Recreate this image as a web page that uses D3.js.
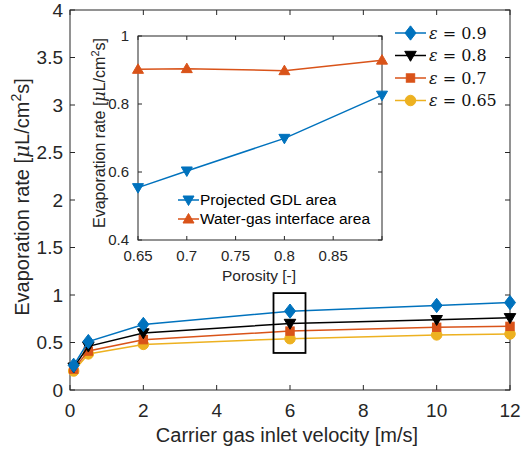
<!DOCTYPE html>
<html><head><meta charset="utf-8">
<script src="https://cdn.jsdelivr.net/npm/d3@7"></script>
<style>body{margin:0;background:#fff}</style>
</head><body>
<script>
const velocity = [0.1, 0.5, 2, 6, 10, 12];
const eps090 = [0.26, 0.51, 0.69, 0.83, 0.89, 0.92];
const eps080 = [0.24, 0.46, 0.60, 0.70, 0.74, 0.76];
const eps070 = [0.22, 0.41, 0.53, 0.62, 0.66, 0.67];
const eps065 = [0.20, 0.38, 0.48, 0.54, 0.58, 0.59];
const seriesNames = ["0.9", "0.8", "0.7", "0.65"];
const porosity = [0.65, 0.7, 0.8, 0.9];
const gdlArea = [0.554, 0.603, 0.699, 0.826];
const interfaceArea = [0.902, 0.904, 0.898, 0.929];
const insetNames = ["Projected GDL area", "Water-gas interface area"];
const mainXTicks = [0, 2, 4, 6, 8, 10, 12];
const mainYTicks = [0, 0.5, 1, 1.5, 2, 2.5, 3, 3.5, 4];
const insetXTicks = [0.65, 0.7, 0.75, 0.8, 0.85, 0.9];
const insetYTicks = [0.4, 0.6, 0.8, 1];

const W = 521, H = 453;
const ax = "#262626";
const svg = d3.select("body").append("svg").attr("width", W).attr("height", H)
  .style("font-family", "Arial, 'Liberation Sans', sans-serif");

const x = d3.scaleLinear().domain([0, 12]).range([70, 510]);
const y = d3.scaleLinear().domain([0, 4]).range([390, 10]);

function drawAxes(g, xs, ys, xt, yt, opts) {
  const [x0, x1] = xs.range(), [y0, y1] = ys.range();
  const tl = opts.tick;
  xt.forEach(v => {
    const px = xs(v);
    g.append("line").attr("x1", px).attr("x2", px).attr("y1", y0).attr("y2", y0 - tl).attr("stroke", ax);
    g.append("line").attr("x1", px).attr("x2", px).attr("y1", y1).attr("y2", y1 + tl).attr("stroke", ax);
    if (!opts.skipX || !opts.skipX.includes(v))
      g.append("text").attr("x", px).attr("y", y0 + opts.xlOff).attr("text-anchor", "middle")
        .attr("font-size", opts.fs).attr("fill", ax).text(v);
  });
  yt.forEach(v => {
    const py = ys(v);
    g.append("line").attr("x1", x0).attr("x2", x0 + tl).attr("y1", py).attr("y2", py).attr("stroke", ax);
    g.append("line").attr("x1", x1).attr("x2", x1 - tl).attr("y1", py).attr("y2", py).attr("stroke", ax);
    g.append("text").attr("x", x0 - opts.ylOff).attr("y", py).attr("dy", "0.35em").attr("text-anchor", "end")
      .attr("font-size", opts.fs).attr("fill", ax).text(v);
  });
  g.append("rect").attr("x", x0).attr("y", y1).attr("width", x1 - x0).attr("height", y0 - y1)
    .attr("fill", "none").attr("stroke", ax).attr("stroke-width", 1);
}

function marker(g, type, cx, cy, size, color) {
  const s = size;
  let el;
  if (type === "diamond") el = g.append("path").attr("d", `M${cx},${cy - s * 0.65}L${cx + s * 0.5},${cy}L${cx},${cy + s * 0.65}L${cx - s * 0.5},${cy}Z`);
  else if (type === "tdown") el = g.append("path").attr("d", `M${cx - s * 0.55},${cy - s * 0.4}L${cx + s * 0.55},${cy - s * 0.4}L${cx},${cy + s * 0.55}Z`);
  else if (type === "tup") el = g.append("path").attr("d", `M${cx - s * 0.55},${cy + s * 0.4}L${cx + s * 0.55},${cy + s * 0.4}L${cx},${cy - s * 0.55}Z`);
  else if (type === "square") el = g.append("rect").attr("x", cx - s * 0.42).attr("y", cy - s * 0.42).attr("width", s * 0.84).attr("height", s * 0.84);
  else el = g.append("circle").attr("cx", cx).attr("cy", cy).attr("r", s * 0.5);
  el.attr("fill", color).attr("stroke", color);
}

const gm = svg.append("g");
drawAxes(gm, x, y, mainXTicks, mainYTicks, {tick: 5, fs: 19, xlOff: 27, ylOff: 7});

const mainSeries = [
  {vals: eps090, color: "#0072BD", m: "diamond", s: 11},
  {vals: eps080, color: "#000000", m: "tdown", s: 10.5},
  {vals: eps070, color: "#D95319", m: "square", s: 10},
  {vals: eps065, color: "#EDB120", m: "circle", s: 10.5}
];
const line = d3.line().x((d, i) => x(velocity[i])).y(d => y(d));
mainSeries.slice().reverse().forEach(s => {
  gm.append("path").attr("d", line(s.vals)).attr("fill", "none").attr("stroke", s.color).attr("stroke-width", 1.5);
  s.vals.forEach((v, i) => marker(gm, s.m, x(velocity[i]), y(v), s.s, s.color));
});

gm.append("rect").attr("x", x(6) - 16.5).attr("y", y(1.02)).attr("width", 32).attr("height", y(0.39) - y(1.02))
  .attr("fill", "none").attr("stroke", "#000").attr("stroke-width", 1.8);

gm.append("text").attr("x", 287).attr("y", 442).attr("text-anchor", "middle").attr("font-size", 20).attr("fill", ax)
  .text("Carrier gas inlet velocity [m/s]");
const yl = gm.append("text").attr("transform", "translate(29,197) rotate(-90)").attr("text-anchor", "middle")
  .attr("font-size", 20).attr("fill", ax);
yl.append("tspan").text("Evaporation rate [");
yl.append("tspan").attr("font-style", "italic").attr("font-family", "'DejaVu Serif', serif").text("μ");
yl.append("tspan").text("L/cm");
yl.append("tspan").attr("dy", -8).attr("font-size", 14).text("2");
yl.append("tspan").attr("dy", 8).text("s]");

const lg = svg.append("g");
mainSeries.forEach((s, i) => {
  const ly = 33 + i * 22.5;
  lg.append("line").attr("x1", 395).attr("x2", 426).attr("y1", ly).attr("y2", ly).attr("stroke", s.color).attr("stroke-width", 1.5);
  marker(lg, s.m, 410.5, ly, s.s, s.color);
  const t = lg.append("text").attr("x", 429).attr("y", ly).attr("dy", "0.35em").attr("font-size", 16)
    .attr("font-family", "'DejaVu Serif', 'Liberation Serif', serif").attr("fill", "#111");
  t.append("tspan").attr("font-style", "italic").text("ε");
  t.append("tspan").text(" = " + seriesNames[i]);
});

const xi = d3.scaleLinear().domain([0.65, 0.9]).range([138, 382]);
const yi = d3.scaleLinear().domain([0.4, 1]).range([240, 36]);
const gi = svg.append("g");
gi.append("rect").attr("x", 138).attr("y", 36).attr("width", 244).attr("height", 204).attr("fill", "#fff");
drawAxes(gi, xi, yi, insetXTicks, insetYTicks, {tick: 4, fs: 15, xlOff: 21, ylOff: 9, skipX: [0.9]});
const li = d3.line().x((d, i) => xi(porosity[i])).y(d => yi(d));
const insetSeries = [
  {vals: gdlArea, color: "#0072BD", m: "tdown"},
  {vals: interfaceArea, color: "#D95319", m: "tup"}
];
insetSeries.forEach(s => {
  gi.append("path").attr("d", li(s.vals)).attr("fill", "none").attr("stroke", s.color).attr("stroke-width", 1.5);
  s.vals.forEach((v, i) => marker(gi, s.m, xi(porosity[i]), yi(v), 10, s.color));
});
insetSeries.forEach((s, i) => {
  const ly = 200 + i * 19;
  gi.append("line").attr("x1", 178).attr("x2", 199).attr("y1", ly).attr("y2", ly).attr("stroke", s.color).attr("stroke-width", 1.5);
  marker(gi, s.m, 188.5, ly, 10, s.color);
  gi.append("text").attr("x", 200).attr("y", ly).attr("dy", "0.35em").attr("font-size", 15.5).attr("fill", "#000").text(insetNames[i]);
});
gi.append("text").attr("x", 259).attr("y", 281).attr("text-anchor", "middle").attr("font-size", 15.5).attr("fill", ax).text("Porosity [-]");
const yl2 = gi.append("text").attr("transform", "translate(105,133) rotate(-90)").attr("text-anchor", "middle")
  .attr("font-size", 16).attr("fill", ax);
yl2.append("tspan").text("Evaporation rate [");
yl2.append("tspan").attr("font-style", "italic").attr("font-family", "'DejaVu Serif', serif").text("μ");
yl2.append("tspan").text("L/cm");
yl2.append("tspan").attr("dy", -6).attr("font-size", 11).text("2");
yl2.append("tspan").attr("dy", 6).text("s]");
</script>
</body></html>
